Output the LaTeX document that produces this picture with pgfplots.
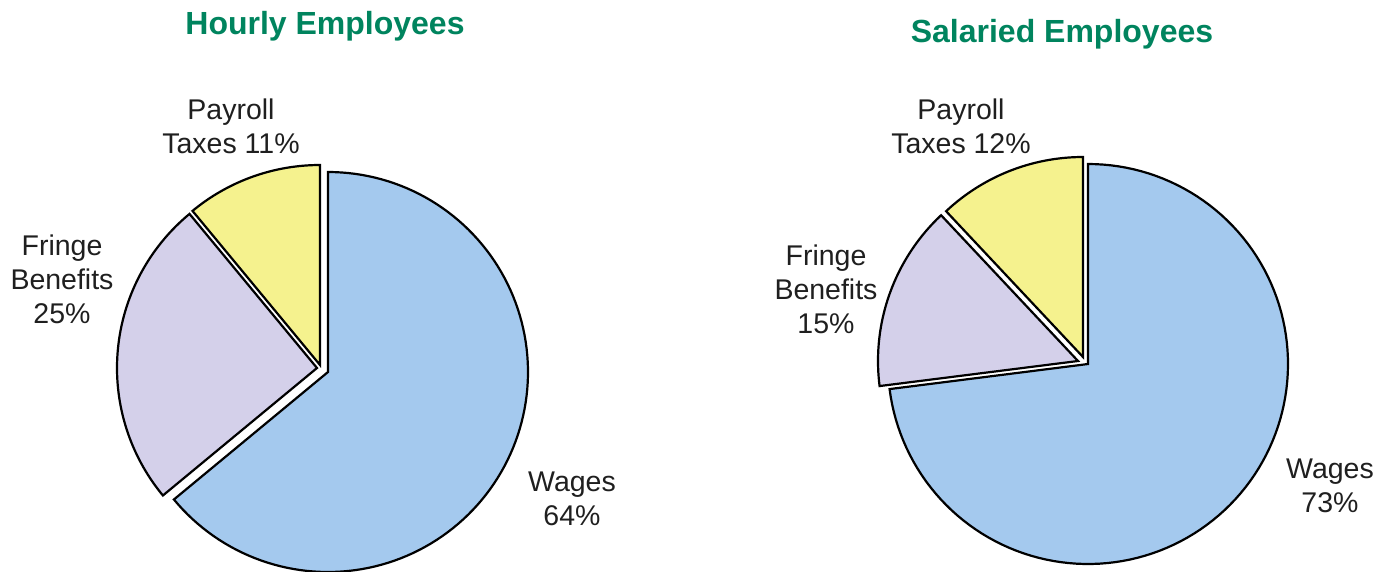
\documentclass[border=0pt]{standalone}
\usepackage{pgfplots}
\pgfplotsset{compat=1.18}
\usepackage{fontspec}
\setmainfont{Liberation Sans}
\definecolor{wagesc}{HTML}{A4C9EE}
\definecolor{fringec}{HTML}{D4D0EA}
\definecolor{payc}{HTML}{F5F28E}
\definecolor{titlec}{HTML}{00845E}
% shares (percent)
\def\hWages{64}\def\hFringe{25}\def\hPay{11}
\def\sWages{73}\def\sFringe{15}\def\sPay{12}
\def\R{200}
% slice: cx, cy, start angle, end angle, colour
\newcommand{\slice}[5]{%
  \addplot[draw=black, line width=2.2pt, line join=miter, fill=#5, domain=#3:#4, samples=120, variable=\t]
    ({#1+\R*cos(\t)}, {#2-\R*sin(\t)}) -- (#1,#2) -- cycle;}
\begin{document}
\begin{tikzpicture}
\begin{axis}[
  width=1379pt, height=571pt, scale only axis,
  xmin=0, xmax=1379, ymin=0, ymax=571, y dir=reverse,
  hide axis, clip=true, anchor=south west, at={(0,0)},
]
% Hourly
\pgfmathsetmacro{\aA}{90+3.6*\hPay}
\pgfmathsetmacro{\aB}{\aA+3.6*\hFringe}
\slice{328}{372}{\aB}{450}{wagesc}
\slice{320}{365}{90}{\aA}{payc}
\slice{317}{368}{\aA}{\aB}{fringec}
% Salaried
\pgfmathsetmacro{\bA}{90+3.6*\sPay}
\pgfmathsetmacro{\bB}{\bA+3.6*\sFringe}
\slice{1088}{364}{\bB}{450}{wagesc}
\slice{1083}{357}{90}{\bA}{payc}
\slice{1078}{361}{\bA}{\bB}{fringec}
\end{axis}
\begin{scope}[x=1pt,y=-1pt,yshift=571pt]
\tikzset{lab/.style={align=center, inner sep=0pt, font=\fontsize{28.5}{34}\selectfont, text=black!88}}
\node[font=\bfseries\fontsize{32}{36}\selectfont, text=titlec, inner sep=0pt] at (325,26) {Hourly Employees};
\node[font=\bfseries\fontsize{32}{36}\selectfont, text=titlec, inner sep=0pt] at (1062,34) {Salaried Employees};
\node[lab] at (231,126) {Payroll\\Taxes 11\%};
\node[lab] at (62,279) {Fringe\\Benefits\\25\%};
\node[lab] at (572,499) {Wages\\64\%};
\node[lab] at (961,126) {Payroll\\Taxes 12\%};
\node[lab] at (826,289) {Fringe\\Benefits\\15\%};
\node[lab] at (1330,486) {Wages\\73\%};
\end{scope}
\pgfresetboundingbox
\useasboundingbox (0,0) rectangle (1379pt,571pt);
\end{tikzpicture}
\end{document}
